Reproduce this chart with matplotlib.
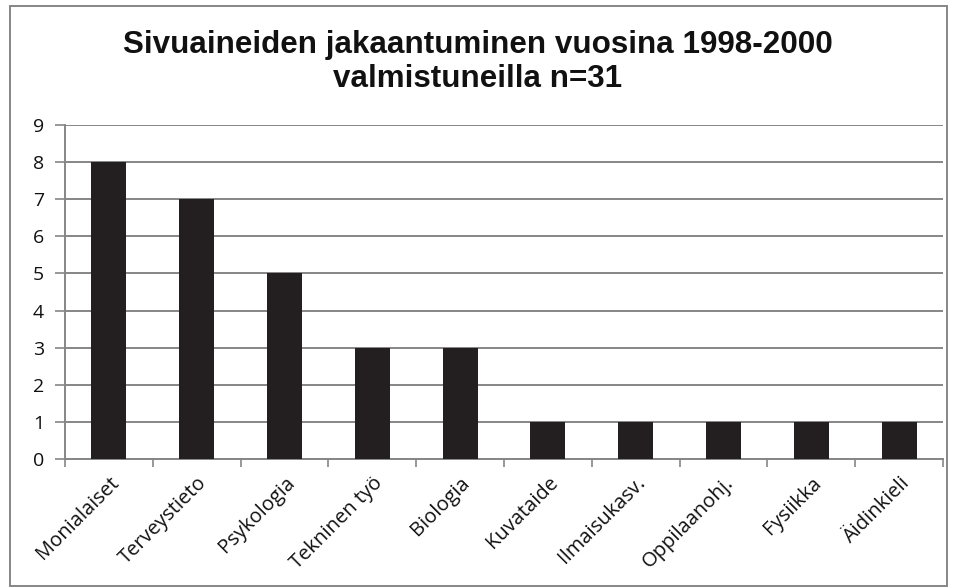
import numpy as np
import matplotlib.pyplot as plt
from matplotlib.patches import Rectangle

categories = ["Monialaiset", "Terveystieto", "Psykologia", "Tekninen työ", "Biologia",
              "Kuvataide", "Ilmaisukasv.", "Oppilaanohj.", "Fysiikka", "Äidinkieli"]
counts = [8, 7, 5, 3, 3, 1, 1, 1, 1, 1]
title = "Sivuaineiden jakaantuminen vuosina 1998-2000\nvalmistuneilla n=31"

grid_col = "#868686"
text_col = "#111111"

fig = plt.figure(figsize=(9.56, 5.88), dpi=100)
ax = fig.add_axes([65 / 956, 1 - 459 / 588, (943 - 65) / 956, (459 - 125) / 588])

x = np.arange(len(categories))
ax.bar(x, counts, width=0.4, color="#231f20", zorder=3)

ax.set_xlim(-0.5, len(categories) - 0.5)
ax.set_ylim(0, 9)
ax.set_yticks(range(10))
ax.yaxis.grid(True, color=grid_col, linewidth=1.4, zorder=0)

ax.set_xticks(x)
ax.set_xticklabels(categories, rotation=45, ha="right", rotation_mode="anchor",
                   fontsize=14.5, family="Open Sans", color=text_col)
ax.set_xticks(np.arange(-0.5, len(categories)), minor=True)
ax.tick_params(axis="x", which="major", length=0, pad=10)
ax.tick_params(axis="x", which="minor", length=6, width=1.2, color=grid_col, direction="out")
ax.tick_params(axis="y", length=7, width=1.2, color=grid_col, labelsize=14, pad=8)
for lbl in ax.get_yticklabels():
    lbl.set_family("Open Sans")
    lbl.set_color(text_col)

for s in ["top", "right"]:
    ax.spines[s].set_visible(False)
for s in ["left", "bottom"]:
    ax.spines[s].set_color(grid_col)
    ax.spines[s].set_linewidth(1.4)

fig.text(0.5, 1 - 62 / 588, title, ha="center", va="center", fontsize=22.6,
         fontweight="bold", family="Liberation Sans", color=text_col, linespacing=1.15)

fig.patches.append(Rectangle((10 / 956, 2 / 588), 937 / 956, 580 / 588, transform=fig.transFigure,
                             fill=False, edgecolor=grid_col, linewidth=1.4))

fig.savefig("out.png", dpi=100)
